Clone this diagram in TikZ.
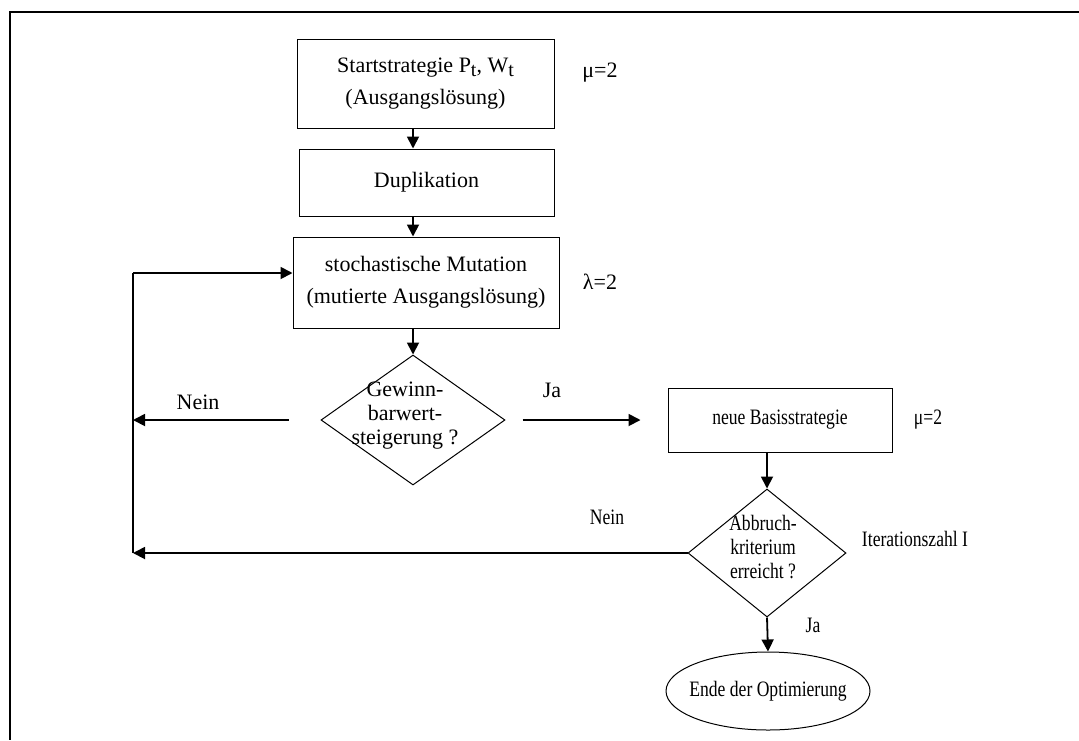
\documentclass[tikz,border=0pt]{standalone}
\usepackage{fontspec}
\usepackage{graphicx}
\setmainfont{Liberation Serif}
\usetikzlibrary{shapes.geometric, arrows.meta, positioning}

\newcommand{\tief}[1]{\raisebox{-0.45ex}{\fontsize{10}{10}\selectfont #1}}
\newcommand{\schmal}[1]{\scalebox{0.8}[1]{#1}}

\begin{document}
\begin{tikzpicture}[x=0.5pt, y=-0.5pt,
        font=\fontsize{11}{16}\selectfont,
        box/.style={draw, line width=0.5pt, rectangle, inner sep=0pt, align=center},
        raute/.style={draw, line width=0.5pt, diamond, inner sep=0pt},
        rautetext/.style={align=center, inner sep=0pt, font=\fontsize{11}{12}\selectfont},
        pfeil/.style={line width=0.9pt, -{Triangle[length=6pt, width=6pt]}},
        linie/.style={line width=0.9pt}]

        \useasboundingbox (0,0) rectangle (1079,740);
        % Rahmen
        \draw[line width=1pt] (1079,12) -- (10,12) -- (10,740);

        % Nodes
        \node (Start) [box, minimum width=128.5pt, minimum height=44.5pt] at (425.5,83.5)
            {Startstrategie P\tief{t}, W\tief{t}\\(Ausgangslösung)};
        \node (Dup) [box, minimum width=127.5pt, minimum height=33.5pt] at (426.5,182.5) {Duplikation};
        \node (Mut) [box, minimum width=133pt, minimum height=45.5pt] at (426,282.5)
            {stochastische Mutation\\(mutierte Ausgangslösung)};
        \node (D1) [raute, minimum width=92pt, minimum height=65pt] at (413,420) {};
        \node (D1t) [rautetext] at ([xshift=-4pt, yshift=2pt]D1.center) {Gewinn-\\barwert-\\steigerung ?};
        \node (Neu) [box, minimum width=112pt, minimum height=32pt] at (780,420) {\schmal{neue Basisstrategie}};
        \node (D2) [raute, minimum width=79pt, minimum height=64pt] at (767,553) {};
        \node (D2t) [rautetext] at ([xshift=-2pt, yshift=3pt]D2.center)
            {\schmal{Abbruch-}\\\schmal{kriterium}\\\schmal{erreicht ?}};
        \node (Ende) [draw, line width=0.5pt, ellipse, inner xsep=-4pt, inner ysep=0pt,
            minimum width=102pt, minimum height=39pt] at (768,691) {\schmal{Ende der Optimierung}};

        % Labels
        \node (mu1) at (600,73) {μ=2};
        \node (lambda) at (600,282) {λ=2};
        \node (mu2) at (928,420) {\schmal{μ=2}};
        \node (iter) at (915,539) {\schmal{Iterationszahl I}};
        \node (nein1) at (198,402) {Nein};
        \node (ja1) at (552,390) {Ja};
        \node (nein2) at (607,517) {\schmal{Nein}};
        \node (ja2) at (813,625) {\schmal{Ja}};

        \coordinate (Lo) at (133,273);
        \coordinate (Lm) at (133,420);
        \coordinate (Lu) at (133,553);

        % Arrows
        \draw[pfeil] (Start.south -| D1.north) -- (Dup.north -| D1.north);
        \draw[pfeil] (Dup.south -| D1.north) -- (Mut.north -| D1.north);
        \draw[pfeil] (Mut.south -| D1.north) -- (D1.north);
        \draw[pfeil] ([xshift=-16pt]D1.west) -- (Lm);
        \draw[pfeil] ([xshift=8.5pt]D1.east) -- ([xshift=-13.5pt]Neu.west);
        \draw[pfeil] (Neu.south -| D2.north) -- (D2.north);
        \draw[pfeil] (D2.west) -- (Lu);
        \draw[linie] (Lu) -- (Lo);
        \draw[pfeil] (Lo) -- (Lo -| Mut.west);
        \draw[pfeil] (D2.south) -- (Ende.north);

\end{tikzpicture}
\end{document}
